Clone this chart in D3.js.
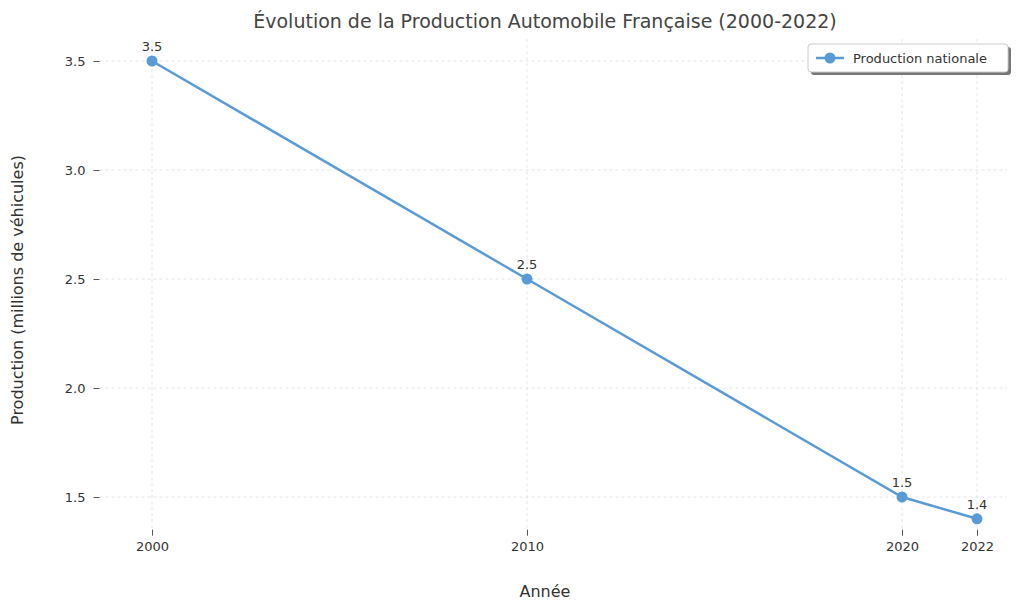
<!DOCTYPE html>
<html><head><meta charset="utf-8">
<script src="https://cdn.jsdelivr.net/npm/d3@7"></script>
<style>body{margin:0;background:#fff}text{font-family:"DejaVu Sans",sans-serif}</style>
</head><body><svg id="c" width="1024" height="611"></svg>
<script>
const years=[2000,2010,2020,2022];
const production=[3.5,2.5,1.5,1.4];
const yTicks=[1.5,2.0,2.5,3.0,3.5];
const seriesName="Production nationale";
const svg=d3.select("#c");
const x=d3.scaleLinear().domain([2000,2022]).range([152,977]);
const y=d3.scaleLinear().domain([1.5,3.5]).range([497,61]);
const pTop=y(3.6),pBot=y(1.35),pLeft=x(1998.6),pRight=x(2022.8);
const col="#5b9bd5";
svg.append("g").selectAll("line").data(yTicks).join("line")
 .attr("x1",pLeft).attr("x2",pRight).attr("y1",d=>y(d)).attr("y2",d=>y(d))
 .attr("stroke","#ddd").attr("stroke-dasharray","3,3").attr("stroke-width",0.8);
svg.append("g").selectAll("line").data(years).join("line")
 .attr("y1",pTop).attr("y2",pBot).attr("x1",d=>x(d)).attr("x2",d=>x(d))
 .attr("stroke","#ddd").attr("stroke-dasharray","3,3").attr("stroke-width",0.8);
const ya=svg.append("g").attr("transform",`translate(${pLeft},0)`)
 .call(d3.axisLeft(y).tickValues(yTicks).tickFormat(d3.format(".1f")).tickSize(6).tickPadding(8));
const xa=svg.append("g").attr("transform",`translate(0,${pBot})`)
 .call(d3.axisBottom(x).tickValues(years).tickFormat(d3.format("d")).tickSize(6).tickPadding(6));
[ya,xa].forEach(a=>{a.select(".domain").remove();a.selectAll("line").attr("stroke","#555");a.selectAll("text").attr("fill","#333").style("font-size","13px");});
const data=years.map((d,i)=>({yr:d,v:production[i]}));
svg.append("path").datum(data).attr("fill","none").attr("stroke",col).attr("stroke-width",2.5)
 .attr("d",d3.line().x(d=>x(d.yr)).y(d=>y(d.v)));
svg.append("g").selectAll("circle").data(data).join("circle")
 .attr("cx",d=>x(d.yr)).attr("cy",d=>y(d.v)).attr("r",5.5).attr("fill",col);
svg.append("g").selectAll("text").data(data).join("text")
 .attr("x",d=>x(d.yr)).attr("y",d=>y(d.v)-10).attr("text-anchor","middle")
 .attr("fill","#333").style("font-size","13px").text(d=>d.v.toFixed(1));
svg.append("text").attr("x",545).attr("y",28).attr("text-anchor","middle").attr("fill","#444")
 .style("font-size","19px").text("Évolution de la Production Automobile Française (2000-2022)");
svg.append("text").attr("x",545).attr("y",597).attr("text-anchor","middle").attr("fill","#333")
 .style("font-size","16px").text("Année");
svg.append("text").attr("transform","translate(23,290) rotate(-90)").attr("text-anchor","middle").attr("fill","#333")
 .style("font-size","16px").text("Production (millions de véhicules)");
const lg=svg.append("g").attr("transform","translate(808,44)");
lg.append("rect").attr("x",3).attr("y",3).attr("width",200).attr("height",28).attr("rx",3).attr("fill","#777");
lg.append("rect").attr("width",200).attr("height",28).attr("rx",3).attr("fill","#fff").attr("stroke","#ccc");
lg.append("line").attr("x1",8).attr("x2",36).attr("y1",14).attr("y2",14).attr("stroke",col).attr("stroke-width",2.5);
lg.append("circle").attr("cx",22).attr("cy",14).attr("r",5.5).attr("fill",col);
lg.append("text").attr("x",45).attr("y",19).attr("fill","#333").style("font-size","13px").text(seriesName);
</script></body></html>
